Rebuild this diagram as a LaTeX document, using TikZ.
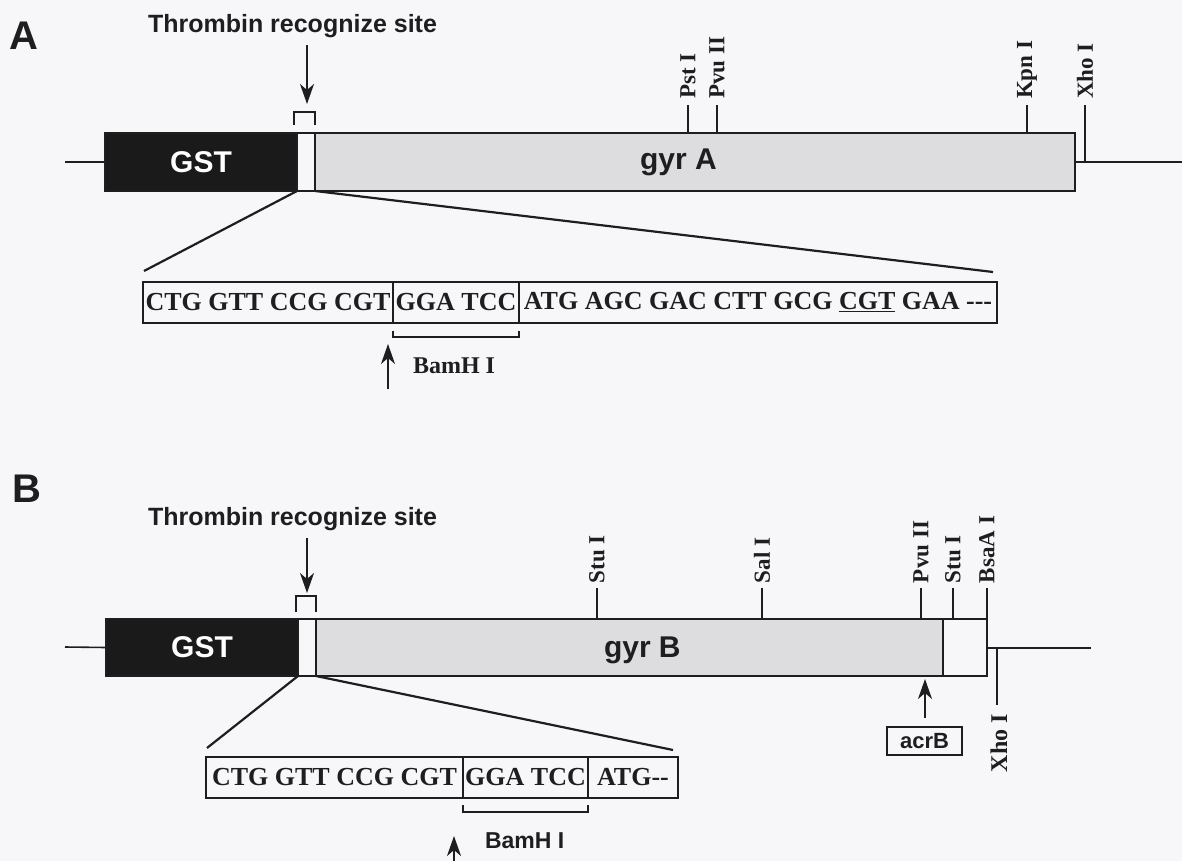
\documentclass[tikz,border=0pt]{standalone}
\usepackage{fontspec}
\setmainfont{Liberation Serif}
\setsansfont{Liberation Sans}
\usetikzlibrary{arrows.meta,calc}
\definecolor{bg}{RGB}{247,247,249}
\definecolor{gyrfill}{RGB}{221,221,223}
\definecolor{gstfill}{RGB}{26,26,26}
\definecolor{ink}{RGB}{30,30,32}
\begin{document}
\begin{tikzpicture}[x=1pt,y=-1pt,
  every node/.style={inner sep=0pt,outer sep=0pt,text=ink},
  panel/.style={font=\sffamily\bfseries\fontsize{40}{40}\selectfont},
  thr/.style={font=\sffamily\bfseries\fontsize{25}{25}\selectfont},
  genebox/.style={draw=ink,line width=1.5pt,anchor=north west},
  gstbox/.style={genebox,fill=gstfill,text=white,font=\sffamily\bfseries\fontsize{30}{30}\selectfont},
  linkbox/.style={genebox,fill=bg},
  gyrbox/.style={genebox,fill=gyrfill},
  genetext/.style={font=\sffamily\bfseries\fontsize{30}{30}\selectfont,anchor=base west},
  sitelab/.style={font=\rmfamily\bfseries\fontsize{23}{23}\selectfont,rotate=90},
  tickline/.style={draw=ink,line width=1.4pt},
  backbone/.style={draw=ink,line width=1.6pt},
  zoomline/.style={draw=ink,line width=2.2pt},
  seqbox/.style={draw=ink,line width=1.4pt,anchor=north west,minimum height=41pt,
     font=\rmfamily\bfseries\fontsize{26}{26}\selectfont},
  arr/.style={draw=ink,line width=1.5pt,-{Stealth[length=20pt,width=14pt,inset=6pt]}},
  bamserif/.style={font=\rmfamily\bfseries\fontsize{24}{24}\selectfont,anchor=base west},
  bamsans/.style={font=\sffamily\bfseries\fontsize{23}{23}\selectfont,anchor=base west},
  acrbox/.style={draw=ink,line width=1.4pt,minimum width=75pt,minimum height=28pt,
     font=\sffamily\bfseries\fontsize{22}{22}\selectfont}
]
\useasboundingbox[fill=bg] (0,0) rectangle (1182,861);

%%%%%%%%%%%%%%%% Panel A
\node[panel] (labA) at (24,36) {A};
\node[thr,anchor=base west] (thrA) at (148,33) {Thrombin recognize site};
\coordinate (tA1) at (307,45);
\coordinate (tA2) at (307,104);
\draw[arr] (tA1) -- (tA2);
\coordinate (brA1) at (294,125);
\coordinate (brA2) at (315,125);
\draw[tickline] (brA1) -- ++(0,-13) -| (brA2);

\node[gstbox,minimum width=192pt,minimum height=58pt] (gstA) at (105,133) {GST};
\node[linkbox,minimum width=18pt,minimum height=58pt] (linkA) at (297,133) {};
\node[gyrbox,minimum width=760pt,minimum height=58pt] (gyrA) at (315,133) {};
\node[genetext] (gyrAt) at (640,170) {gyr A};

\coordinate (bbA0) at (65,162);
\coordinate (bbA1) at (1182,162);
\draw[backbone] (bbA0) -- (gstA.west);
\draw[backbone] (gyrA.east) -- (bbA1);

% restriction sites A
\coordinate (pstA) at (688,105);
\coordinate (pvuA) at (717,105);
\coordinate (kpnA) at (1027,105);
\coordinate (xhoA) at (1085,105);
\draw[tickline] (pstA) -- (pstA |- gyrA.north);
\draw[tickline] (pvuA) -- (pvuA |- gyrA.north);
\draw[tickline] (kpnA) -- (kpnA |- gyrA.north);
\draw[tickline] (xhoA) -- (xhoA |- bbA1);
\node[sitelab,anchor=west] (pstAl) at (688,99) {Pst I};
\node[sitelab,anchor=west] (pvuAl) at (717,99) {Pvu II};
\node[sitelab,anchor=west] (kpnAl) at (1027,99) {Kpn I};
\node[sitelab,anchor=west] (xhoAl) at (1085,99) {Xho I};

% sequence A
\node[seqbox,minimum width=250pt] (sA1) at (143,282) {CTG GTT CCG CGT};
\node[seqbox,minimum width=126pt] (sA2) at (sA1.north east) {GGA TCC};
\node[seqbox,minimum width=478pt] (sA3) at (sA2.north east) {ATG AGC GAC CTT GCG \underline{CGT} GAA -{}-{}-};
\coordinate (zA1) at (144,271);
\coordinate (zA2) at (993,272);
\draw[zoomline] (gstA.south east) -- (zA1);
\draw[zoomline] (linkA.south east) -- (zA2);
\draw[tickline] ($(sA2.south west)+(0,8)$) -- ++(0,6) -| ($(sA2.south east)+(0,8)$);
\coordinate (bA1) at (388,389);
\coordinate (bA2) at (388,344);
\draw[arr] (bA1) -- (bA2);
\node[bamserif] (bamA) at (413,373) {BamH I};

%%%%%%%%%%%%%%%% Panel B
\node[panel] (labB) at (27,489) {B};
\node[thr,anchor=base west] (thrB) at (148,525) {Thrombin recognize site};
\coordinate (tB1) at (307,538);
\coordinate (tB2) at (307,593);
\draw[arr] (tB1) -- (tB2);
\coordinate (brB1) at (296,612);
\coordinate (brB2) at (316,612);
\draw[tickline] (brB1) -- ++(0,-16) -| (brB2);

\node[gstbox,minimum width=192pt,minimum height=57pt] (gstB) at (106,619) {GST};
\node[linkbox,minimum width=18pt,minimum height=57pt] (linkB) at (298,619) {};
\node[gyrbox,minimum width=627pt,minimum height=57pt] (gyrB) at (316,619) {};
\node[linkbox,minimum width=44pt,minimum height=57pt] (tailB) at (943,619) {};
\node[genetext] (gyrBt) at (604,657) {gyr B};

\coordinate (bbB0) at (65,647);
\coordinate (bbB1) at (1091,648);
\draw[backbone] (bbB0) -- (gstB.west);
\draw[backbone] (tailB.east |- bbB1) -- (bbB1);

% restriction sites B
\coordinate (stuB1) at (597,588);
\coordinate (salB) at (762,588);
\coordinate (pvuB) at (921,588);
\coordinate (stuB2) at (953,588);
\coordinate (bsaB) at (987,588);
\draw[tickline] (stuB1) -- (stuB1 |- gyrB.north);
\draw[tickline] (salB) -- (salB |- gyrB.north);
\draw[tickline] (pvuB) -- (pvuB |- gyrB.north);
\draw[tickline] (stuB2) -- (stuB2 |- gyrB.north);
\draw[tickline] (bsaB) -- (bsaB |- gyrB.north);
\node[sitelab,anchor=west] (stuB1l) at (597,583) {Stu I};
\node[sitelab,anchor=west] (salBl) at (762,583) {Sal I};
\node[sitelab,anchor=west] (pvuBl) at (921,583) {Pvu II};
\node[sitelab,anchor=west] (stuB2l) at (953,583) {Stu I};
\node[sitelab,anchor=west] (bsaBl) at (987,583) {BsaA I};
\coordinate (xhoB1) at (997,648);
\coordinate (xhoB2) at (997,705);
\draw[tickline] (xhoB1) -- (xhoB2);
\node[sitelab,anchor=east,font=\rmfamily\bfseries\fontsize{24}{24}\selectfont] (xhoBl) at (999,714) {Xho I};

% acrB
\node[acrbox] (acrB) at (924.5,741) {acrB};
\coordinate (acr2) at (925,679);
\draw[arr] (acrB.north -| acr2) ++(0,-9) -- (acr2);

% sequence B
\node[seqbox,minimum width=257pt] (sB1) at (206,757) {CTG GTT CCG CGT};
\node[seqbox,minimum width=125pt] (sB2) at (sB1.north east) {GGA TCC};
\node[seqbox,minimum width=90pt] (sB3) at (sB2.north east) {ATG-{}-};
\coordinate (zB1) at (207,748);
\coordinate (zB2) at (673,750);
\draw[zoomline] (gstB.south east) -- (zB1);
\draw[zoomline] (linkB.south east) -- (zB2);
\draw[tickline] ($(sB2.south west)+(0,7)$) -- ++(0,7) -| ($(sB2.south east)+(0,7)$);
\coordinate (bB1) at (454,864);
\coordinate (bB2) at (454,836);
\draw[arr] (bB1) -- (bB2);
\node[bamsans] (bamB) at (485,848) {BamH I};
\end{tikzpicture}
\end{document}
